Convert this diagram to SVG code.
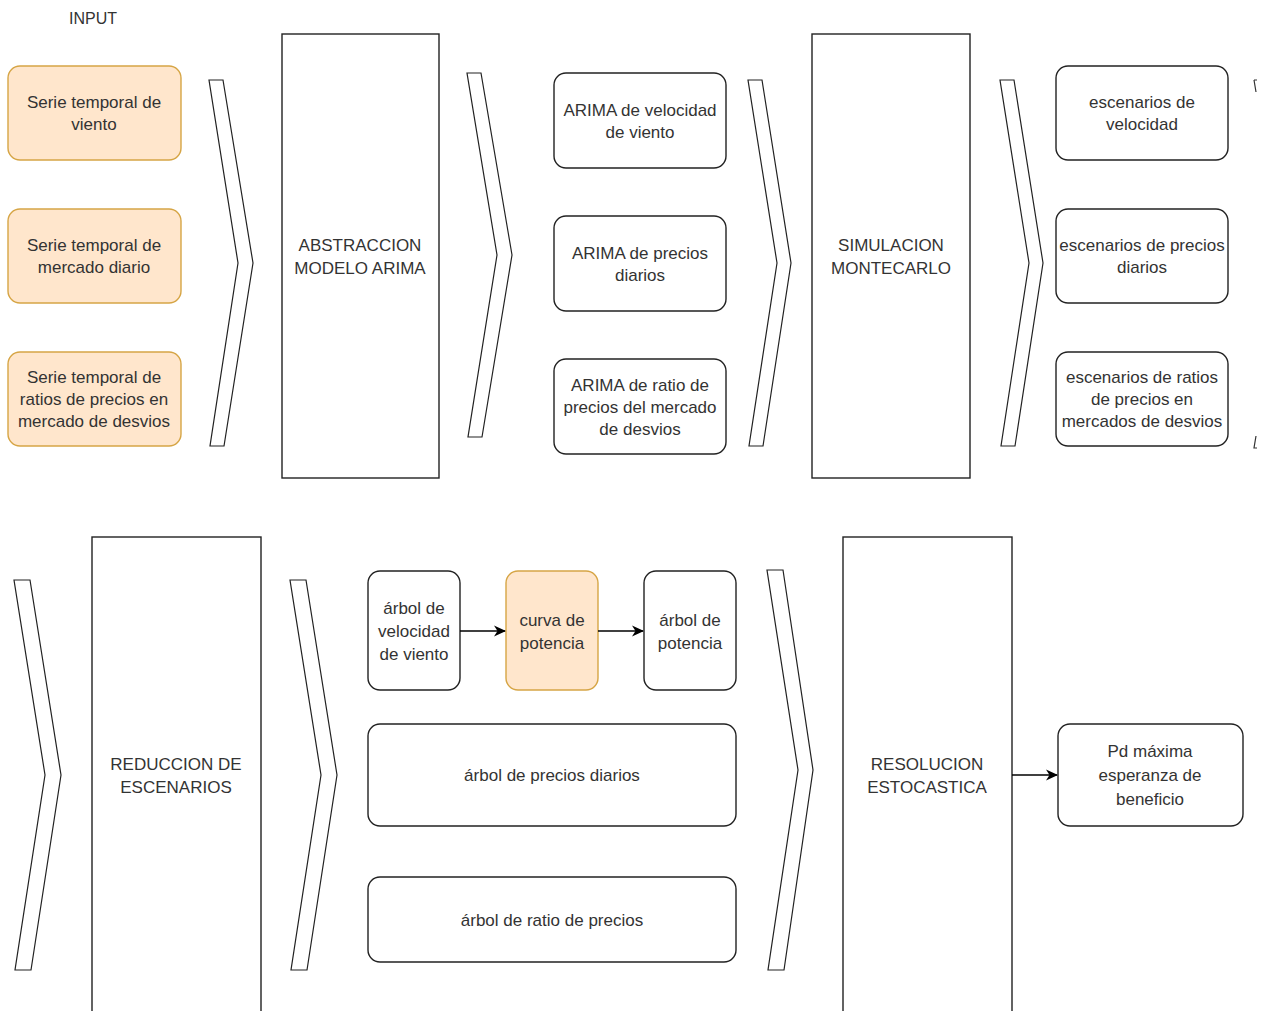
<svg xmlns="http://www.w3.org/2000/svg" width="1262" height="1011" viewBox="0 0 1262 1011">
<defs>
<style>
.box{fill:#ffffff;stroke:#222;stroke-width:1.4}
.obox{fill:#ffe6cc;stroke:#d6a545;stroke-width:1.4}
.big{fill:#ffffff;stroke:#222;stroke-width:1.4}
.chev{fill:#ffffff;stroke:#222;stroke-width:1.2}
text{font-family:"Liberation Sans",Arial,sans-serif;font-size:17px;fill:#333;text-anchor:middle}
.conn{stroke:#000;stroke-width:1.6;fill:none}
</style>
<marker id="arr" viewBox="0 0 12 12" refX="11" refY="6" markerWidth="12" markerHeight="12" markerUnits="userSpaceOnUse" orient="auto">
<path d="M0,0.5 L12,6 L0,11.5 L3.5,6 z" fill="#000"/>
</marker>
</defs>
<rect width="1262" height="1011" fill="#ffffff"/>

<text id="input-label" x="93" y="24" style="font-size:16px">INPUT</text>

<g id="in1"><rect class="obox" x="8" y="66" width="173" height="94" rx="12"/><text x="94" y="108">Serie temporal de</text><text x="94" y="130">viento</text></g>
<g id="in2"><rect class="obox" x="8" y="209" width="173" height="94" rx="12"/><text x="94" y="251">Serie temporal de</text><text x="94" y="273">mercado diario</text></g>
<g id="in3"><rect class="obox" x="8" y="352" width="173" height="94" rx="12"/><text x="94" y="383">Serie temporal de</text><text x="94" y="405">ratios de precios en</text><text x="94" y="427">mercado de desvios</text></g>

<g id="chev1"><polygon class="chev" points="209,80 223,80 253,263 224,446 210,446 238,263"/></g>

<g id="abstraccion"><rect class="big" x="282" y="34" width="157" height="444"/><text x="360" y="251">ABSTRACCION</text><text x="360" y="274">MODELO ARIMA</text></g>

<g id="chev2"><polygon class="chev" points="467,73 481,73 512,255 482,437 468,437 497,255"/></g>

<g id="ar1"><rect class="box" x="554" y="73" width="172" height="95" rx="12"/><text x="640" y="116">ARIMA de velocidad</text><text x="640" y="138">de viento</text></g>
<g id="ar2"><rect class="box" x="554" y="216" width="172" height="95" rx="12"/><text x="640" y="259">ARIMA de precios</text><text x="640" y="281">diarios</text></g>
<g id="ar3"><rect class="box" x="554" y="359" width="172" height="95" rx="12"/><text x="640" y="391">ARIMA de ratio de</text><text x="640" y="413">precios del mercado</text><text x="640" y="435">de desvios</text></g>

<g id="chev3"><polygon class="chev" points="748,80 762,80 791,263 763,446 749,446 777,263"/></g>

<g id="simulacion"><rect class="big" x="812" y="34" width="158" height="444"/><text x="891" y="251">SIMULACION</text><text x="891" y="274">MONTECARLO</text></g>

<g id="chev4"><polygon class="chev" points="1000,80 1014,80 1043,263 1015,446 1001,446 1029,263"/></g>

<g id="es1"><rect class="box" x="1056" y="66" width="172" height="94" rx="12"/><text x="1142" y="108">escenarios de</text><text x="1142" y="130">velocidad</text></g>
<g id="es2"><rect class="box" x="1056" y="209" width="172" height="94" rx="12"/><text x="1142" y="251">escenarios de precios</text><text x="1142" y="273">diarios</text></g>
<g id="es3"><rect class="box" x="1056" y="352" width="172" height="94" rx="12"/><text x="1142" y="383">escenarios de ratios</text><text x="1142" y="405">de precios en</text><text x="1142" y="427">mercados de desvios</text></g>

<g id="edge-marks"><path d="M1254,80 L1257,80 M1254,80 L1256,92" stroke="#333" stroke-width="1.2" fill="none"/><path d="M1256,436 L1254,448 L1257,448" stroke="#333" stroke-width="1.2" fill="none"/></g>

<g id="chev5"><polygon class="chev" points="14,580 30,580 61,775 31,970 15,970 45,775"/></g>

<g id="reduccion"><rect class="big" x="92" y="537" width="169" height="490"/><text x="176" y="770">REDUCCION DE</text><text x="176" y="793">ESCENARIOS</text></g>

<g id="chev6"><polygon class="chev" points="290,580 306,580 337,775 307,970 291,970 321,775"/></g>

<g id="arbol-vel"><rect class="box" x="368" y="571" width="92" height="119" rx="12"/><text x="414" y="614">árbol de</text><text x="414" y="637">velocidad</text><text x="414" y="660">de viento</text></g>
<g id="curva"><rect class="obox" x="506" y="571" width="92" height="119" rx="12"/><text x="552" y="626">curva de</text><text x="552" y="649">potencia</text></g>
<g id="arbol-pot"><rect class="box" x="644" y="571" width="92" height="119" rx="12"/><text x="690" y="626">árbol de</text><text x="690" y="649">potencia</text></g>
<g id="arbol-precios"><rect class="box" x="368" y="724" width="368" height="102" rx="12"/><text x="552" y="781">árbol de precios diarios</text></g>
<g id="arbol-ratio"><rect class="box" x="368" y="877" width="368" height="85" rx="12"/><text x="552" y="926">árbol de ratio de precios</text></g>

<g id="chev7"><polygon class="chev" points="767,570 783,570 813,770 784,970 768,970 798,770"/></g>

<g id="resolucion"><rect class="big" x="843" y="537" width="169" height="490"/><text x="927" y="770">RESOLUCION</text><text x="927" y="793">ESTOCASTICA</text></g>

<g id="pd"><rect class="box" x="1058" y="724" width="185" height="102" rx="12"/><text x="1150" y="757">Pd máxima</text><text x="1150" y="781">esperanza de</text><text x="1150" y="805">beneficio</text></g>

<g id="connectors">
<line class="conn" x1="460" y1="631" x2="505" y2="631" marker-end="url(#arr)"/>
<line class="conn" x1="598" y1="631" x2="643" y2="631" marker-end="url(#arr)"/>
<line class="conn" x1="1012" y1="775" x2="1057" y2="775" marker-end="url(#arr)"/>
</g>
</svg>
